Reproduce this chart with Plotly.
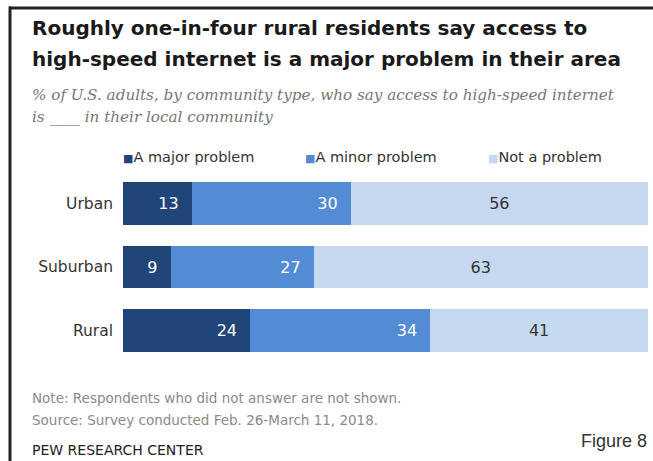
import plotly.graph_objects as go

categories = ["Urban", "Suburban", "Rural"]
series_names = ["A major problem", "A minor problem", "Not a problem"]
major = [13, 9, 24]
minor = [30, 27, 34]
notprob = [56, 63, 41]

colors = ["#1f4579", "#538bd5", "#c6d8f0"]
text_colors = ["white", "white", "#333333"]
anchors = ["end", "end", "middle"]
suffixes = ["\u00a0\u00a0", "\u00a0\u00a0", ""]

W, H = 653, 461
L, R, T, B = 123, 0, 172, 99
PW, PH = W - L - R, H - T - B

def px(x):
    return (x - L) / PW

def py(y):
    return 1 - (y - T) / PH

sans = "DejaVu Sans, Liberation Sans, Arial, sans-serif"

fig = go.Figure()
for name, vals, col, tcol, anc, suf in zip(series_names, [major, minor, notprob], colors,
                                          text_colors, anchors, suffixes):
    fig.add_trace(go.Bar(
        y=categories, x=vals, name=name, orientation="h",
        marker=dict(color=col, line=dict(width=0)),
        text=[f"{v}{suf}" for v in vals], textposition="inside",
        insidetextanchor=anc,
        textfont=dict(color=tcol, size=16, family=sans),
        showlegend=False,
        hoverinfo="skip",
    ))

fig.update_layout(
    barmode="stack",
    bargap=0.33,
    width=W, height=H,
    margin=dict(l=L, r=R, t=T, b=B),
    paper_bgcolor="white", plot_bgcolor="white",
    uniformtext=dict(minsize=10, mode="show"),
    xaxis=dict(range=[0, 100], visible=False, fixedrange=True),
    yaxis=dict(autorange="reversed", showgrid=False, zeroline=False, showline=False,
               ticks="", ticklabelstandoff=9,
               tickfont=dict(size=15.5, color="#333333", family=sans)),
    font=dict(family=sans),
)

annotations = []
title_font = dict(size=20, color="#1a1a1a", family="DejaVu Sans, Open Sans, Arial, sans-serif")
for txt, yc in [("Roughly one-in-four rural residents say access to", 28),
                ("high-speed internet is a major problem in their area", 59)]:
    annotations.append(dict(xref="paper", yref="paper", x=px(30), y=py(yc),
                            xanchor="left", yanchor="middle", showarrow=False,
                            text=f"<b>{txt}</b>", font=title_font))
sub_font = dict(size=15.2, color="#777777", family="DejaVu Serif, Liberation Serif, serif")
for txt, yc in [("% of U.S. adults, by community type, who say access to high-speed internet", 95),
                ("is ____ in their local community", 117)]:
    annotations.append(dict(xref="paper", yref="paper", x=px(30), y=py(yc),
                            xanchor="left", yanchor="middle", showarrow=False,
                            text=f"<i>{txt}</i>", font=sub_font))
# Legend
leg_x = [121, 303, 486]
for name, col, lx in zip(series_names, colors, leg_x):
    annotations.append(dict(
        xref="paper", yref="paper", x=px(lx), y=py(157),
        xanchor="left", yanchor="middle", showarrow=False,
        text=f"<span style='color:{col};font-size:11px'>■</span>{name}",
        font=dict(size=14.5, color="#333333", family=sans),
    ))
# Notes
note_font = dict(size=13.5, color="#8a8a8a", family=sans)
for txt, yc in [("Note: Respondents who did not answer are not shown.", 398),
                ("Source: Survey conducted Feb. 26-March 11, 2018.", 420)]:
    annotations.append(dict(xref="paper", yref="paper", x=px(30), y=py(yc),
                            xanchor="left", yanchor="middle", showarrow=False,
                            text=txt, font=note_font))
annotations.append(dict(
    xref="paper", yref="paper", x=px(30), y=py(450),
    xanchor="left", yanchor="middle", showarrow=False,
    text="PEW RESEARCH CENTER",
    font=dict(size=14, color="#222222", family=sans),
))
annotations.append(dict(
    xref="paper", yref="paper", x=px(649), y=py(441),
    xanchor="right", yanchor="middle", showarrow=False,
    text="Figure 8",
    font=dict(size=18, color="#333333", family="Liberation Sans, Arial, sans-serif"),
))
fig.update_layout(annotations=annotations)

# Frame lines (top and left)
fig.add_shape(type="line", xref="paper", yref="paper",
              x0=px(9), x1=px(653), y0=py(8), y1=py(8),
              line=dict(color="#222222", width=3))
fig.add_shape(type="line", xref="paper", yref="paper",
              x0=px(10), x1=px(10), y0=py(6.5), y1=py(461),
              line=dict(color="#222222", width=3))

fig.write_html("out.html", config=dict(displayModeBar=False),
               post_script="document.body.style.margin='0';document.body.style.padding='0';")
